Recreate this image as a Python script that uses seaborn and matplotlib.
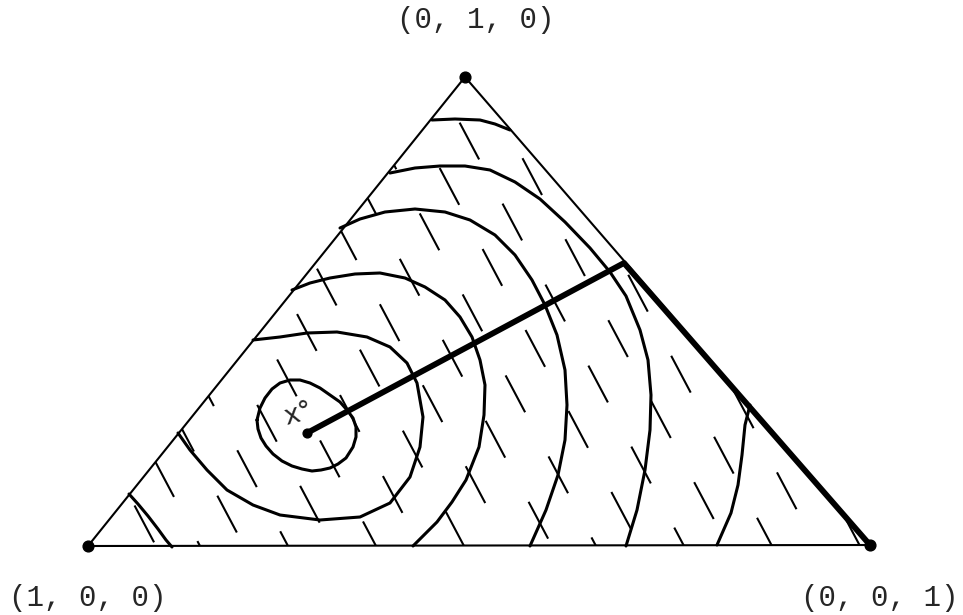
import numpy as np
import pandas as pd
import matplotlib
matplotlib.use("Agg")
import matplotlib.pyplot as plt
from matplotlib.patches import Polygon
import seaborn as sns

# simplex corners (picture coords, y downward)
corner_x = [88, 465, 870]
corner_y = [546, 77, 545]
corner_labels = ["(1, 0, 0)", "(0, 1, 0)", "(0, 0, 1)"]

# traced level curves
c0_x = [129, 138, 148, 158, 166, 172]
c0_y = [494, 504, 516, 529, 540, 547]
c1_x = [257, 260, 265, 272, 280, 290, 300, 310, 320, 330, 340, 347, 353, 356, 356, 353, 346, 338, 330, 321, 312, 302, 292, 282, 273, 266, 261, 258, 257]
c1_y = [420, 408, 398, 389, 383, 380, 380, 383, 388, 395, 402, 410, 418, 427, 437, 447, 458, 464, 468, 470, 471, 469, 466, 461, 454, 446, 438, 429, 420]
c2_x = [253, 280, 307, 337, 367, 390, 407, 417, 423, 420, 410, 390, 360, 320, 280, 253, 227, 207, 190, 178]
c2_y = [340, 337, 333, 332, 337, 347, 363, 383, 417, 447, 477, 503, 517, 520, 515, 505, 490, 470, 450, 433]
c3_x = [292, 310, 330, 355, 380, 405, 425, 445, 460, 472, 480, 485, 484, 479, 466, 452, 437, 413]
c3_y = [290, 283, 278, 274, 273, 278, 287, 300, 317, 337, 360, 385, 415, 447, 480, 502, 522, 546]
c4_x = [340, 360, 385, 415, 445, 470, 495, 515, 532, 545, 557, 565, 567, 565, 558, 546, 530]
c4_y = [228, 219, 212, 209, 212, 220, 235, 255, 280, 305, 335, 370, 405, 440, 475, 510, 546]
c5_x = [390, 415, 440, 465, 490, 515, 540, 565, 590, 610, 626, 640, 648, 651, 650, 645, 637, 626]
c5_y = [173, 168, 166, 166, 170, 182, 199, 222, 248, 272, 296, 330, 360, 395, 430, 470, 510, 546]
c6_x = [432, 455, 480, 495, 510]
c6_y = [120, 119, 120, 124, 130]
c7_x = [750, 745, 742, 738, 731, 717]
c7_y = [405, 425, 455, 485, 513, 545]

# path from the minimum to the edge and down to the corner
path_x = [307, 624, 870]
path_y = [433, 263, 545]

curves = [(c0_x, c0_y), (c1_x, c1_y), (c2_x, c2_y), (c3_x, c3_y),
          (c4_x, c4_y), (c5_x, c5_y), (c6_x, c6_y), (c7_x, c7_y)]
df = pd.concat([pd.DataFrame({"x": cx, "y": cy, "level": i})
                for i, (cx, cy) in enumerate(curves)], ignore_index=True)

sns.set_theme(style="white")
plt.rcParams["lines.scale_dashes"] = False

fig = plt.figure(figsize=(9.63, 6.15), dpi=100)
ax = fig.add_axes([0, 0, 1, 1])
ax.set_xlim(0, 963)
ax.set_ylim(615, 0)
ax.axis("off")

tri = Polygon(np.column_stack([corner_x, corner_y]), closed=True,
              fill=False, edgecolor="black", lw=1.5, transform=ax.transData)
ax.add_patch(tri)

# dashed slanted hatching inside the simplex
clip = Polygon(np.column_stack([corner_x, corner_y]), closed=True, transform=ax.transData)
s = np.array([0, 520])
for i, c in enumerate(np.arange(-240, 900, 44)):
    ln, = ax.plot(c - 0.53 * s, 546 - s, color="black", lw=1.5,
                  linestyle=((i * 29) % 66, (30, 36)), solid_capstyle="butt")
    ln.set_clip_path(clip)

sns.lineplot(data=df, x="x", y="y", units="level", estimator=None, sort=False,
             color="black", lw=2.2, legend=False, ax=ax)
ax.set_xlabel("")
ax.set_ylabel("")

ax.plot(path_x, path_y, color="black", lw=4.2, solid_capstyle="round", solid_joinstyle="round")
ax.scatter(corner_x, corner_y, s=60, color="black", zorder=5)
ax.scatter([path_x[0]], [path_y[0]], s=40, color="black", zorder=5)

font = "Liberation Mono"
ax.text(476, 20, corner_labels[1], ha="center", va="center", fontsize=21, family=font)
ax.text(88, 598, corner_labels[0], ha="center", va="center", fontsize=21, family=font)
ax.text(880, 598, corner_labels[2], ha="center", va="center", fontsize=21, family=font)
ax.text(298, 415, "x°", ha="center", va="center", fontsize=19, rotation=15, family="DejaVu Sans")

fig.savefig("out.png", dpi=100, facecolor="white")
